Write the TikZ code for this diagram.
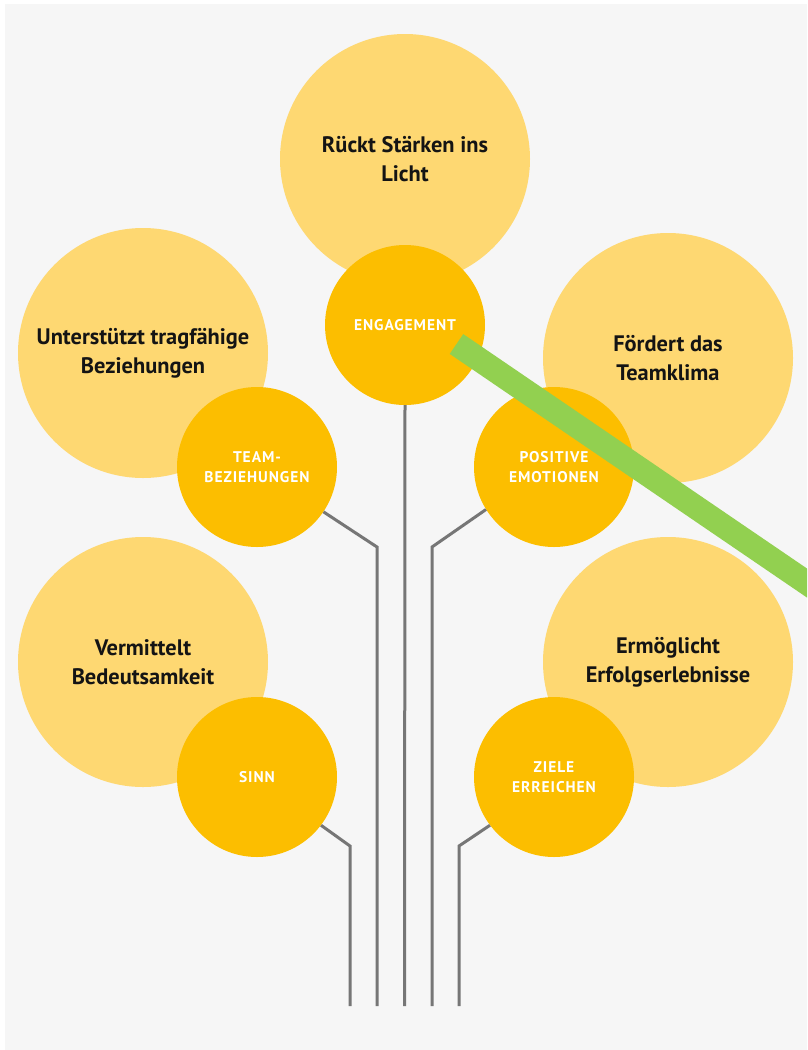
\documentclass[tikz,border=0pt]{standalone}
\usepackage{fontspec}
\setmainfont{PT Sans}
\newfontfamily\capsfont[LetterSpace=6]{PT Sans}
\definecolor{bgGray}{RGB}{246,246,246}
\definecolor{lightY}{RGB}{254,216,114}
\definecolor{deepY}{RGB}{252,190,0}
\definecolor{trunkGray}{RGB}{118,118,118}
\definecolor{greenBar}{RGB}{146,208,80}
\begin{document}
\begin{tikzpicture}[x=1pt,y=-1pt,
  bigc/.style={circle, fill=lightY, minimum size=250pt, inner sep=0pt, align=center,
    text=black!92, font=\bfseries\fontsize{22.4}{29}\selectfont},
  smallc/.style={circle, fill=deepY, minimum size=160pt, inner sep=0pt, align=center,
    text=white, font=\capsfont\bfseries\fontsize{15.5}{20}\selectfont},
  trunk/.style={draw=trunkGray, line width=3pt, line join=miter},
  greenline/.style={draw=greenBar, line width=24pt}]
\useasboundingbox (0,0) rectangle (807,1050);
\fill[white] (0,0) rectangle (807,1050);
\fill[bgGray] (5,4) rectangle (807,1050);

% large circles
\node[bigc] (top) at (405,159) {Rückt Stärken ins\\Licht};
\node[bigc] (lt) at (143,353) {Unterstützt tragfähige\\Beziehungen};
\node[bigc] (rt) at (668,358) {Fördert das\\Teamklima};
\node[bigc] (lb) at (143,662) {Vermittelt\\Bedeutsamkeit};
\node[bigc] (rb) at (668,662) {Ermöglicht\\Erfolgserlebnisse};

% small circles
\node[smallc] (eng) at (405,325) {ENGAGEMENT};
\node[smallc] (team) at (257,467) {TEAM-\\BEZIEHUNGEN};
\node[smallc] (pos) at (554,467) {POSITIVE\\EMOTIONEN};
\node[smallc] (sinn) at (257,777) {SINN};
\node[smallc] (ziele) at (554,777) {ZIELE\\ERREICHEN};

% trunk
\coordinate (e1) at (350,1006);
\coordinate (e2) at (377,1006);
\coordinate (e3) at (404.5,1006);
\coordinate (e4) at (432,1006);
\coordinate (e5) at (459,1006);
\coordinate (k2) at (377,547);
\coordinate (k4) at (432,547);
\coordinate (k1) at (350,846);
\coordinate (k5) at (459,846);
\draw[trunk] (eng.south) -- (e3);
\draw[trunk] (team.-34) -- (k2) -- (e2);
\draw[trunk] (pos.-148) -- (k4) -- (e4);
\draw[trunk] (sinn.-37) -- (k1) -- (e1);
\draw[trunk] (ziele.-143) -- (k5) -- (e5);

% green bar
\coordinate (gs) at (456.5,344);
\coordinate (ge) at (870,626);
\begin{scope}
\clip (5,4) rectangle (807,1050);
\draw[greenline] (gs) -- (ge);
\end{scope}
\end{tikzpicture}
\end{document}
